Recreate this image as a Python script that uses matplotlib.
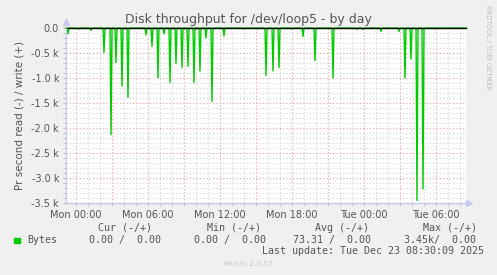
import numpy as np
import matplotlib
matplotlib.use('Agg')
import matplotlib.pyplot as plt
from matplotlib.ticker import FixedLocator, MultipleLocator

# read spikes (minutes after Mon 00:00, bytes/s, negative = read)
spike_times = [-42, 15, 75, 140, 175, 200, 230, 260, 350, 380, 410, 440, 470,
               500, 530, 560, 590, 620, 650, 680, 740, 835, 950, 985, 1015,
               1080, 1135, 1195, 1285, 1405, 1435, 1525, 1615, 1645, 1675,
               1705, 1735]
spike_vals = [-120, -20, -50, -490, -2130, -690, -1160, -1390, -140, -370,
              -1000, -120, -1090, -710, -790, -770, -1090, -860, -200, -1470,
              -160, -20, -950, -860, -790, -20, -170, -650, -1000, -30, -30,
              -70, -70, -1000, -620, -3450, -3220]

tick_labels = {0: 'Mon 00:00', 360: 'Mon 06:00', 720: 'Mon 12:00',
               1080: 'Mon 18:00', 1440: 'Tue 00:00', 1800: 'Tue 06:00'}
y_ticks = [0, -500, -1000, -1500, -2000, -2500, -3000, -3500]
y_labels = ['0.0', '-0.5 k', '-1.0 k', '-1.5 k', '-2.0 k', '-2.5 k',
            '-3.0 k', '-3.5 k']

t_start, t_end = -50, 1950

# 5 minute samples, zero except where a spike was read
t = np.arange(t_start, t_end + 1, 5)
read = np.zeros(len(t))
for st, sv in zip(spike_times, spike_vals):
    read[np.argmin(np.abs(t - st))] = sv

W, H = 497, 275
fig = plt.figure(figsize=(W / 100, H / 100), dpi=100, facecolor='#f0f0f0')
ax = fig.add_axes([66 / W, (H - 203) / H, 400 / W, 175 / H])
ax.set_facecolor('white')

ax.set_xlim(t_start, t_end)
ax.set_ylim(-3500, 0)

# grid: red every 3 hours / 0.5k, gray every hour / 0.1k
major_x = np.arange(0, t_end, 180)
ax.xaxis.set_major_locator(FixedLocator(major_x))
ax.xaxis.set_minor_locator(MultipleLocator(60))
ax.yaxis.set_major_locator(FixedLocator(y_ticks))
ax.yaxis.set_minor_locator(MultipleLocator(100))
ax.grid(which='minor', color='#d4d4d4', linestyle=(0, (1, 2)), linewidth=0.8)
ax.grid(which='major', color='#e6a0a0', linestyle=(0, (1, 2)), linewidth=0.8)
ax.set_axisbelow(True)

ax.set_xticklabels([tick_labels.get(int(p), '') for p in major_x],
                   fontsize=7, color='#555555')
ax.set_yticklabels(y_labels, fontsize=7, color='#555555')
ax.tick_params(axis='both', which='both', length=2, color='#bbbbbb', pad=3)

for s in ['top', 'right']:
    ax.spines[s].set_visible(False)
for s in ['left', 'bottom']:
    ax.spines[s].set_color('#c8c8f0')
    ax.spines[s].set_linewidth(1)

# arrows on the axes
ax.plot([t_end + 15], [-3500], marker='>', color='#c8c8f0', markersize=4,
        clip_on=False)
ax.plot([t_start], [130], marker='^', color='#c8c8f0', markersize=4,
        clip_on=False)

ax.plot(t, read, color='#00cc00', linewidth=1.0, clip_on=False)
ax.axhline(0, color='black', linewidth=1, clip_on=False)

ax.set_ylabel('Pr second read (-) / write (+)', fontsize=7.5,
              color='#555555', labelpad=5)

fig.text(248 / W, 1 - 19 / H, 'Disk throughput for /dev/loop5 - by day',
         ha='center', va='center', fontsize=9, color='#555555')
fig.text(488 / W, 1 - 5 / H, 'RRDTOOL / TOBI OETIKER', rotation=270,
         ha='center', va='top', fontsize=4.8, color='#bbbbbb')

mono = 'DejaVu Sans Mono'
fs = 7.2
tc = '#555555'
fig.patches.append(plt.Rectangle((14 / W, 1 - 243 / H), 5.5 / W, 5.5 / H,
                                 transform=fig.transFigure,
                                 color='#00cc00'))
row1 = 1 - 228 / H
row2 = 1 - 240 / H
fig.text(27 / W, row2, 'Bytes', family=mono, fontsize=fs, color=tc,
         va='center')
for x, s in [(98, 'Cur (-/+)'), (207, 'Min (-/+)'), (315, 'Avg (-/+)'),
             (423, 'Max (-/+)')]:
    fig.text(x / W, row1, s, family=mono, fontsize=fs, color=tc, va='center')
for x, s in [(89, '0.00 /  0.00'), (194, '0.00 /  0.00'),
             (293, '73.31 /  0.00'), (404, '3.45k/  0.00')]:
    fig.text(x / W, row2, s, family=mono, fontsize=fs, color=tc, va='center')
fig.text(262 / W, 1 - 251 / H, 'Last update: Tue Dec 23 08:30:09 2025',
         family=mono, fontsize=fs, color=tc, va='center')
fig.text(248 / W, 1 - 264 / H, 'Munin 2.0.57', ha='center', va='center',
         fontsize=5.4, color='#c8c8c8')

fig.savefig('out.png', dpi=100, facecolor=fig.get_facecolor())
